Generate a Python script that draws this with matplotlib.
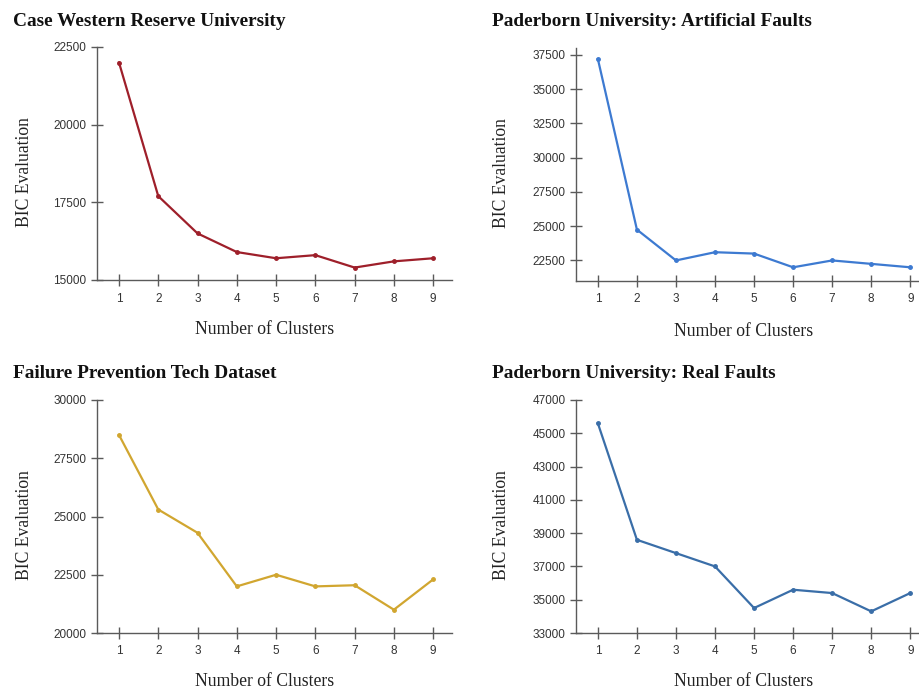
import matplotlib
matplotlib.use("Agg")
import matplotlib.pyplot as plt

clusters = [1, 2, 3, 4, 5, 6, 7, 8, 9]

cwru_bic = [22000, 17700, 16500, 15900, 15700, 15800, 15400, 15600, 15700]
pu_artificial_bic = [37200, 24750, 22500, 23100, 23000, 22000, 22500, 22250, 22000]
fpt_bic = [28500, 25300, 24300, 22000, 22500, 22000, 22050, 21000, 22300]
pu_real_bic = [45600, 38600, 37800, 37000, 34500, 35600, 35400, 34300, 35400]

titles = [
    "Case Western Reserve University",
    "Paderborn University: Artificial Faults",
    "Failure Prevention Tech Dataset",
    "Paderborn University: Real Faults",
]

W, H = 920, 691

panels = [
    # data, colour, ylim, yticks, axes box in pixels (left, top, right, bottom), ylabel x, xlabel drop
    (cwru_bic, "#9e1f2a", (15000, 22500), [15000, 17500, 20000, 22500], (97, 47, 452, 280), 25, 50),
    (pu_artificial_bic, "#3d7ad1", (21000, 38000), [22500, 25000, 27500, 30000, 32500, 35000, 37500], (576, 48, 929, 281), 501, 50),
    (fpt_bic, "#d1a630", (20000, 30000), [20000, 22500, 25000, 27500, 30000], (97, 400, 452, 633), 25, 48),
    (pu_real_bic, "#3a6ea8", (33000, 47000), [33000, 35000, 37000, 39000, 41000, 43000, 45000, 47000], (576, 400, 929, 633), 501, 48),
]

fig = plt.figure(figsize=(W / 100, H / 100), dpi=100)
fig.patch.set_facecolor("white")

serif = ["Liberation Serif", "DejaVu Serif"]
sans = ["Liberation Sans", "DejaVu Sans"]
axis_grey = "#5a5a5a"

for (vals, col, ylim, yticks, box, ylab_x, xlab_drop), title in zip(panels, titles):
    l, t, r, b = box
    w, h = r - l, b - t
    ax = fig.add_axes([l / W, (H - b) / H, w / W, h / H])
    ax.plot(clusters, vals, color=col, lw=1.6, marker="o", ms=2.5)
    ax.set_xlim(0.44, 9.48)
    ax.set_ylim(*ylim)
    ax.set_xticks(clusters)
    ax.set_yticks(yticks)

    for s in ["top", "right"]:
        ax.spines[s].set_visible(False)
    for s in ["left", "bottom"]:
        ax.spines[s].set_color(axis_grey)
        ax.spines[s].set_linewidth(1.0)

    ax.tick_params(axis="both", direction="inout", length=8, width=1.0,
                   color=axis_grey, labelcolor="#333333", labelsize=8.5)
    ax.tick_params(axis="x", pad=5)
    for lab in ax.get_xticklabels() + ax.get_yticklabels():
        lab.set_family(sans)

    ax.set_xlabel("Number of Clusters", family=serif, fontsize=12.7, color="#222222", va="center")
    ax.set_ylabel("BIC Evaluation", family=serif, fontsize=12.7, color="#222222", va="center")
    # label spots, a bit left / low of the axes centre
    ax.xaxis.set_label_coords(168 / w, -xlab_drop / h)
    ax.yaxis.set_label_coords((ylab_x - l) / w, 1 - (172 - 47) / 233)

    # title sits at the left of each panel
    fig.text((l - 84) / W, (H - (t - 26)) / H, title, family=serif, fontsize=13.9,
             fontweight="bold", ha="left", va="center", color="#111111")

fig.savefig("out.png", dpi=100)
